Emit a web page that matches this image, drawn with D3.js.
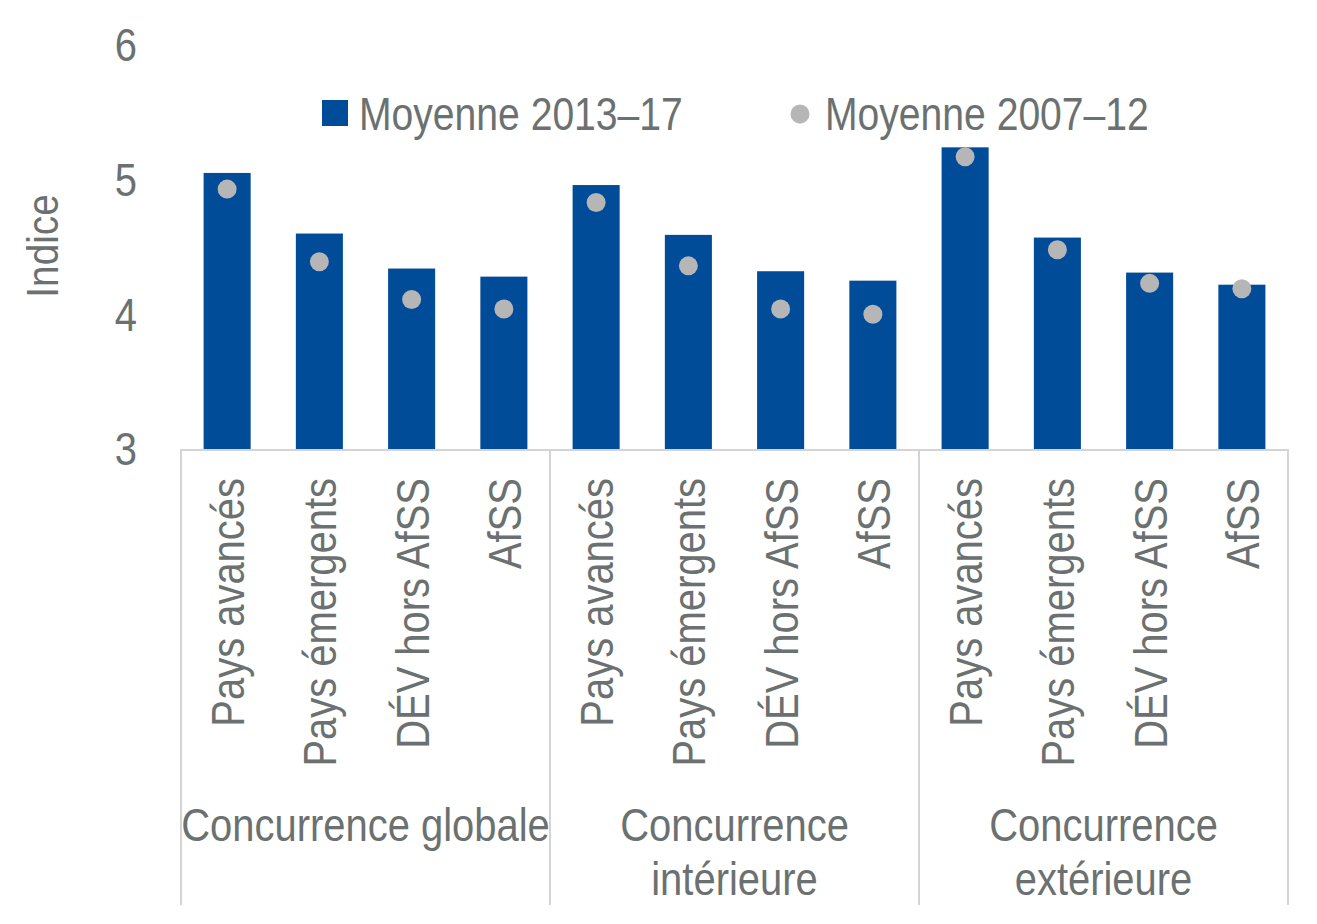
<!DOCTYPE html>
<html>
<head>
<meta charset="utf-8">
<script src="https://cdn.jsdelivr.net/npm/d3@7"></script>
<style>
  body { margin: 0; background: #fff; }
  svg text { font-family: "Liberation Sans Narrow", "Arial Narrow", "Liberation Sans", sans-serif; fill: #6b7170; }
</style>
</head>
<body>
<div class="canvas"></div>
<script>
// data
const groups = ['Concurrence globale', 'Concurrence intérieure', 'Concurrence extérieure'];
const regions = ['Pays avancés', 'Pays émergents', 'DÉV hors AfSS', 'AfSS'];
const recent = [5.05, 4.60, 4.34, 4.28, 4.96, 4.59, 4.32, 4.25, 5.24, 4.57, 4.31, 4.22]; // Moyenne 2013–17
const older = [4.93, 4.39, 4.11, 4.04, 4.83, 4.36, 4.04, 4.00, 5.17, 4.48, 4.23, 4.19];  // Moyenne 2007–12
const yTicks = [3, 4, 5, 6];

const dims = { width: 1317, height: 924 };
const plot = { left: 181, right: 1288, top: 45, bottom: 449 };

const blue = '#014c99';
const grey = '#b6b6b6';
const axisCol = '#d4d4d4';
// no narrow font installed, so squeeze the regular one
const narrow = 0.85;

const svg = d3.select('.canvas').append('svg')
  .attr('width', dims.width)
  .attr('height', dims.height);

// one key per bar: group index + region
const keys = [];
groups.forEach((g, gi) => regions.forEach(r => keys.push(gi + '|' + r)));

const x = d3.scaleBand()
  .domain(keys)
  .range([plot.left, plot.right])
  .paddingInner(0.49)
  .paddingOuter(0.245);

const y = d3.scaleLinear()
  .domain([3, 6])
  .range([plot.bottom, plot.top]);

// y tick labels (no axis line in the original)
svg.append('g')
  .selectAll('text')
  .data(yTicks)
  .enter().append('text')
  .attr('transform', d => `translate(137, ${y(d)}) scale(${narrow}, 1)`)
  .attr('dy', '0.35em')
  .attr('text-anchor', 'end')
  .style('font-size', '47px')
  .text(d => d);

// axis title
svg.append('text')
  .attr('transform', `translate(58, 246) rotate(-90) scale(0.88, 1)`)
  .attr('text-anchor', 'middle')
  .style('font-size', '44px')
  .text('Indice');

// bars
svg.append('g')
  .selectAll('rect')
  .data(recent)
  .enter().append('rect')
  .attr('x', (d, i) => x(keys[i]))
  .attr('y', d => y(d))
  .attr('width', x.bandwidth())
  .attr('height', d => y(3) - y(d))
  .attr('fill', blue);

// dots
svg.append('g')
  .selectAll('circle')
  .data(older)
  .enter().append('circle')
  .attr('cx', (d, i) => x(keys[i]) + x.bandwidth() / 2)
  .attr('cy', d => y(d))
  .attr('r', 9.5)
  .attr('fill', grey);

// category axis: baseline + group separators
const step = x.step();
const groupW = step * regions.length;
const axisG = svg.append('g');

axisG.append('line')
  .attr('x1', plot.left).attr('x2', plot.right)
  .attr('y1', plot.bottom + 1).attr('y2', plot.bottom + 1)
  .attr('stroke', axisCol).attr('stroke-width', 2);

d3.range(groups.length + 1).forEach(i => {
  const xx = plot.left + i * groupW;
  axisG.append('line')
    .attr('x1', xx).attr('x2', xx)
    .attr('y1', plot.bottom).attr('y2', 905)
    .attr('stroke', axisCol).attr('stroke-width', 2);
});

// rotated region labels
axisG.selectAll('text.reg')
  .data(keys)
  .enter().append('text')
  .attr('class', 'reg')
  .attr('transform', d => `translate(${x(d) + x.bandwidth() / 2}, 478) rotate(-90) scale(${narrow}, 1)`)
  .attr('text-anchor', 'end')
  .attr('dy', '0.36em')
  .style('font-size', '47px')
  .text(d => d.split('|')[1]);

// group labels, wrapped like the original
const groupLines = [['Concurrence globale'], ['Concurrence', 'intérieure'], ['Concurrence', 'extérieure']];
groupLines.forEach((lines, gi) => {
  const cx = plot.left + gi * groupW + groupW / 2;
  lines.forEach((l, li) => {
    axisG.append('text')
      .attr('transform', `translate(${cx}, ${841 + li * 54}) scale(${narrow}, 1)`)
      .attr('text-anchor', 'middle')
      .style('font-size', '47px')
      .text(l);
  });
});

// legend
const legend = svg.append('g');
legend.append('rect')
  .attr('x', 322).attr('y', 100)
  .attr('width', 26).attr('height', 26)
  .attr('fill', blue);
legend.append('text')
  .attr('transform', `translate(359, 130) scale(${narrow}, 1)`)
  .style('font-size', '46px')
  .text('Moyenne 2013–17');
legend.append('circle')
  .attr('cx', 800).attr('cy', 114)
  .attr('r', 9.5)
  .attr('fill', grey);
legend.append('text')
  .attr('transform', `translate(825, 130) scale(${narrow}, 1)`)
  .style('font-size', '46px')
  .text('Moyenne 2007–12');
</script>
</body>
</html>
